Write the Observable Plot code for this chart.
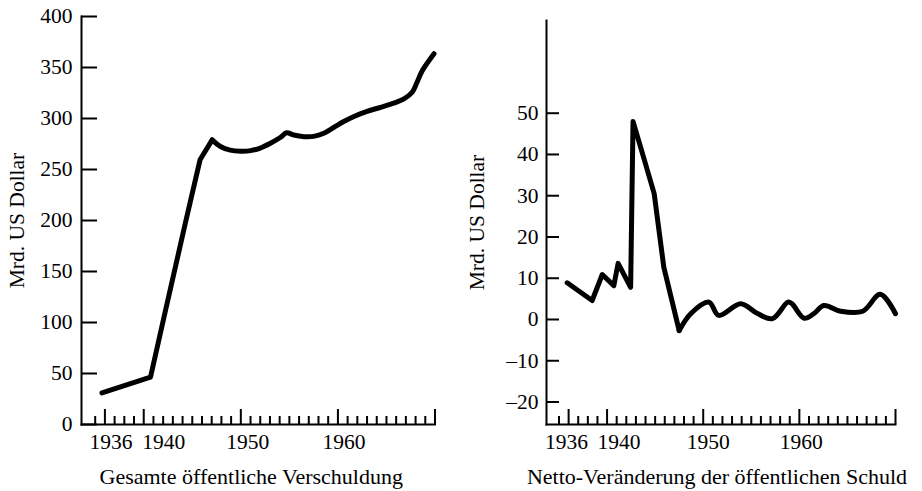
<!DOCTYPE html>
<html><head><meta charset="utf-8">
<script src="https://cdn.jsdelivr.net/npm/d3@7"></script>
<script src="https://cdn.jsdelivr.net/npm/@observablehq/plot@0.6"></script>
<style>
html,body{margin:0;padding:0;background:#fff;}
#wrap{position:relative;width:922px;height:491px;overflow:hidden;background:#fff;}
#left,#right{position:absolute;top:0;}
#left{left:0;} #right{left:461px;}
</style></head><body>
<div id="wrap"><div id="left"></div><div id="right"></div></div>
<script>
// ---- Data ----
const debtYears  = [1935.7, 1940.7, 1942.2, 1944.3, 1945.8, 1947.05, 1947.9, 1948.9, 1950.0, 1951.0, 1952.0, 1953.05, 1954.1, 1954.7, 1955.45, 1956.5, 1957.5, 1958.55, 1959.6, 1960.6, 1961.6, 1963.0, 1964.4, 1965.75, 1966.8, 1967.65, 1968.15, 1968.7, 1969.9];
const debtValues = [31, 46.5, 110, 198, 259.5, 279, 272.5, 269, 268, 268.5, 271, 275.7, 281.6, 286, 283.8, 282.2, 282.5, 285.5, 291.4, 297, 301.8, 307, 311, 315, 319.2, 325.7, 335.5, 347, 363.5];

const changeYears  = [1935.85, 1938.45, 1939.5, 1940.7, 1941.15, 1942.45, 1942.7, 1943.8, 1944.9, 1945.9, 1947.5, 1948.7, 1950.6, 1951.6, 1953.9, 1955.6, 1957.2, 1958.8, 1959.2, 1960.5, 1961.5, 1962.55, 1964.3, 1966.6, 1968.4, 1970.0];
const changeValues = [8.9, 4.6, 10.9, 8.2, 13.6, 7.8, 48, 39.3, 30.5, 12.7, -2.7, 1.4, 4.2, 1.0, 3.8, 1.5, 0.2, 4.2, 3.9, 0.3, 1.4, 3.4, 2.0, 2.0, 6.1, 1.4];

const leftYTicks  = [0, 50, 100, 150, 200, 250, 300, 350, 400];
const rightYTicks = [-20, -10, 0, 10, 20, 30, 40, 50];
const majorYears  = [1936, 1940, 1950, 1960, 1970];
const minorYears  = d3.range(1935, 1971).filter(y => !majorYears.includes(y));

const leftTitle  = "Gesamte öffentliche Verschuldung";
const rightTitle = "Netto-Veränderung der öffentlichen Schuld";
const yLabel     = "Mrd. US Dollar";

const debt   = debtYears.map((year, i) => ({year, value: debtValues[i]}));
const change = changeYears.map((year, i) => ({year, value: changeValues[i]}));

const FONT = "'Liberation Serif', 'Times New Roman', serif";
const yearFormat = d => String(d);
const numFormat = d => d < 0 ? "\u2013" + Math.abs(d) : String(d);

function panel({data, breakIndex, width, height, mL, mR, mT, mB, xDomain, yDomain, yTicks, yTickLen, yPad, yLabelOffset, title, titleDx, labelDx}) {
  const fw = width - mL - mR;
  const fh = height - mT - mB;
  const lineStyle = {x: "year", y: "value", stroke: "black", strokeWidth: 5, strokeLinejoin: "round", strokeLinecap: "round"};
  const xLab = (yr, dx) => Plot.axisX([yr], {tickSize: 0, tickPadding: 9, dx, label: null, tickFormat: yearFormat});
  return Plot.plot({
    width, height,
    marginLeft: mL, marginRight: mR, marginTop: mT, marginBottom: mB,
    x: {domain: xDomain},
    y: {domain: yDomain},
    style: {fontFamily: FONT, fontSize: "21.5px", background: "white", color: "black", overflow: "visible"},
    marks: [
      Plot.frame({anchor: "left", stroke: "black", strokeWidth: 2}),
      Plot.frame({anchor: "bottom", stroke: "black", strokeWidth: 2}),
      Plot.tickY(yTicks, {y: d => d, stroke: "black", strokeWidth: 2, insetRight: fw - yTickLen}),
      Plot.tickX(minorYears, {x: d => d, stroke: "black", strokeWidth: 2, insetTop: fh - 8}),
      Plot.tickX(majorYears, {x: d => d, stroke: "black", strokeWidth: 2, insetTop: fh - 15}),
      Plot.axisY(yTicks, {tickSize: 0, tickPadding: yPad, fontSize: 21.5, tickFormat: numFormat, label: yLabel, labelAnchor: "center", labelOffset: yLabelOffset, labelArrow: "none"}),
      xLab(1936, labelDx[0]),
      xLab(1940, labelDx[1]),
      xLab(1950, labelDx[2]),
      xLab(1960, labelDx[3]),
      Plot.text([title], {text: d => d, frameAnchor: "bottom", textAnchor: "middle", lineAnchor: "bottom", dy: 59, dx: titleDx, fontSize: 22, fill: "black"}),
      Plot.line(data.slice(0, breakIndex + 1), {...lineStyle}),
      Plot.line(data.slice(breakIndex), {...lineStyle, curve: "catmull-rom"})
    ]
  });
}

document.getElementById("left").append(panel({
  data: debt, breakIndex: 5,
  width: 461, height: 491, mL: 81, mR: 26.5, mT: 16, mB: 67,
  xDomain: [1933.59, 1970], yDomain: [0, 400],
  yTicks: leftYTicks, yTickLen: 16, yPad: 9, yLabelOffset: 73,
  title: leftTitle, titleDx: -7, labelDx: [6, 20, 7, 6]
}));

document.getElementById("right").append(panel({
  data: change, breakIndex: 10,
  width: 461, height: 491, mL: 85, mR: 27, mT: 20, mB: 67,
  xDomain: [1933.70, 1970], yDomain: [-25.45, 72.47],
  yTicks: rightYTicks, yTickLen: 13, yPad: 8, yLabelOffset: 78,
  title: rightTitle, titleDx: -4, labelDx: [-2, 12, 5, 2]
}));
</script></body></html>
